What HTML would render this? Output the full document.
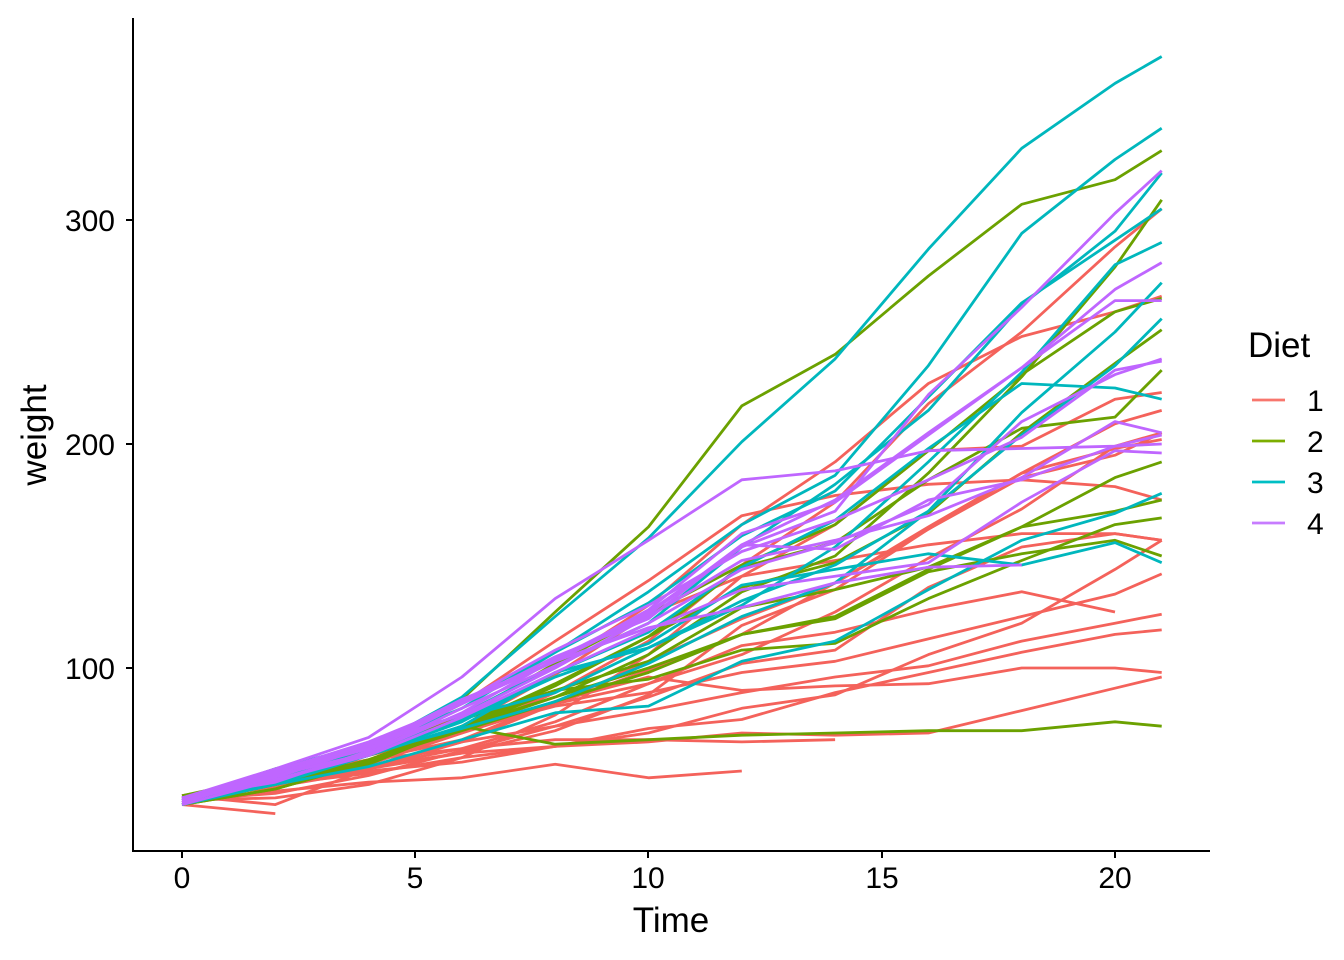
<!DOCTYPE html>
<html><head><meta charset="utf-8"><style>
body{margin:0;background:#fff}
svg{display:block;font-family:"Liberation Sans",Arial,sans-serif}
</style></head><body>
<svg id="s" width="1344" height="960" xmlns="http://www.w3.org/2000/svg">
<g id="lines" fill="none" stroke-width="2.8" stroke-linejoin="round"></g>
<g stroke="#000" stroke-width="2">
<line x1="133" y1="18" x2="133" y2="852"/>
<line x1="132" y1="851" x2="1210" y2="851"/>
<line x1="126" y1="220" x2="133" y2="220"/>
<line x1="126" y1="444" x2="133" y2="444"/>
<line x1="126" y1="668" x2="133" y2="668"/>
<line x1="182" y1="851" x2="182" y2="858"/>
<line x1="415" y1="851" x2="415" y2="858"/>
<line x1="648" y1="851" x2="648" y2="858"/>
<line x1="882" y1="851" x2="882" y2="858"/>
<line x1="1115" y1="851" x2="1115" y2="858"/>
</g>
<g font-size="30" fill="#000">
<text x="115" y="231" text-anchor="end">300</text>
<text x="115" y="455" text-anchor="end">200</text>
<text x="115" y="679" text-anchor="end">100</text>
<text x="182" y="888" text-anchor="middle">0</text>
<text x="415" y="888" text-anchor="middle">5</text>
<text x="648" y="888" text-anchor="middle">10</text>
<text x="882" y="888" text-anchor="middle">15</text>
<text x="1115" y="888" text-anchor="middle">20</text>
<text x="671" y="932" text-anchor="middle" font-size="35">Time</text>
<text transform="translate(46,435) rotate(-90)" text-anchor="middle" font-size="35">weight</text>
<text x="1248" y="357" font-size="35">Diet</text>
<text x="1307" y="411">1</text>
<text x="1307" y="452">2</text>
<text x="1307" y="493">3</text>
<text x="1307" y="534">4</text>
</g>
<g stroke-width="2.8">
<line x1="1252" y1="400" x2="1285" y2="400" stroke="#F8766D"/>
<line x1="1252" y1="441" x2="1285" y2="441" stroke="#7CAE00"/>
<line x1="1252" y1="482" x2="1285" y2="482" stroke="#00BFC4"/>
<line x1="1252" y1="523" x2="1285" y2="523" stroke="#C77CFF"/>
</g>
</svg>
<script>
var T=[0,2,4,6,8,10,12,14,16,18,20,21];
var D=[
[1,[42,51,59,64,76,93,106,125,149,171,199,205]],
[1,[40,49,58,72,84,103,122,138,162,187,209,215]],
[1,[43,39,55,67,84,99,115,138,163,187,198,202]],
[1,[42,49,56,67,74,87,102,108,136,154,160,157]],
[1,[41,42,48,60,79,106,141,164,197,199,220,223]],
[1,[41,49,59,74,97,124,141,148,155,160,160,157]],
[1,[41,49,57,71,89,112,146,174,218,250,288,305]],
[1,[42,50,61,71,84,93,110,116,126,134,125]],
[1,[42,51,59,68,85,96,90,92,93,100,100,98]],
[1,[41,44,52,63,74,81,89,96,101,112,120,124]],
[1,[43,51,63,84,112,139,168,177,182,184,181,175]],
[1,[41,49,56,62,72,88,119,135,162,185,195,205]],
[1,[41,48,53,60,65,67,71,70,71,81,91,96]],
[1,[41,49,62,79,101,128,164,192,227,248,259,266]],
[1,[41,49,56,64,68,68,67,68]],
[1,[41,45,49,51,57,51,54]],
[1,[42,51,61,72,83,89,98,103,113,123,133,142]],
[1,[39,35]],
[1,[43,48,55,62,65,71,82,88,106,120,144,157]],
[1,[41,47,54,58,65,73,77,89,98,107,115,117]],
[2,[40,50,62,86,125,163,217,240,275,307,318,331]],
[2,[41,55,64,77,90,95,108,111,131,148,164,167]],
[2,[43,52,61,73,90,103,127,135,145,163,170,175]],
[2,[42,52,58,74,66,68,70,71,72,72,76,74]],
[2,[40,49,62,78,102,124,146,164,197,231,259,265]],
[2,[42,48,57,74,93,114,136,147,169,205,236,251]],
[2,[39,46,58,73,87,100,115,123,144,163,185,192]],
[2,[39,46,58,73,92,114,145,156,184,207,212,233]],
[2,[39,48,59,74,87,106,134,150,187,230,279,309]],
[2,[42,48,59,72,85,98,115,122,143,151,157,150]],
[3,[42,53,62,73,85,102,123,138,170,204,235,256]],
[3,[41,49,65,82,107,129,159,179,221,263,291,305]],
[3,[39,50,63,77,96,111,137,144,151,146,156,147]],
[3,[41,49,63,85,107,134,164,186,235,294,327,341]],
[3,[41,53,64,87,123,158,201,238,287,332,361,373]],
[3,[39,48,61,76,98,116,145,166,198,227,225,220]],
[3,[41,48,56,68,80,83,103,112,135,157,169,178]],
[3,[41,49,61,74,98,109,128,154,192,232,280,290]],
[3,[42,50,61,78,89,109,130,146,170,214,250,272]],
[3,[41,55,66,79,101,120,154,182,215,262,295,321]],
[4,[42,51,66,85,103,124,155,153,175,184,199,204]],
[4,[42,49,63,84,103,126,160,174,204,234,269,281]],
[4,[42,55,69,96,131,157,184,188,197,198,199,200]],
[4,[42,51,65,86,103,118,127,138,145,146]],
[4,[41,50,61,78,98,117,135,141,147,174,197,196]],
[4,[40,52,62,82,101,120,144,156,173,210,231,238]],
[4,[41,53,66,79,100,123,148,157,168,185,210,205]],
[4,[39,50,62,80,104,125,154,170,222,261,303,322]],
[4,[40,53,64,85,108,128,152,166,184,203,233,237]],
[4,[41,54,67,84,105,122,155,175,205,234,264,264]]
];
var C={1:"#F4625B",2:"#6BA100",3:"#00B7BD",4:"#BF66FF"};
var g=document.getElementById("lines"),h="";
D.forEach(function(d){
 var p=d[1].map(function(w,i){return (182+T[i]*46.65).toFixed(1)+","+(668-(w-100)*2.24).toFixed(1)}).join(" ");
 h+='<polyline stroke="'+C[d[0]]+'" points="'+p+'"/>';
});
g.innerHTML=h;
</script>
</body></html>
